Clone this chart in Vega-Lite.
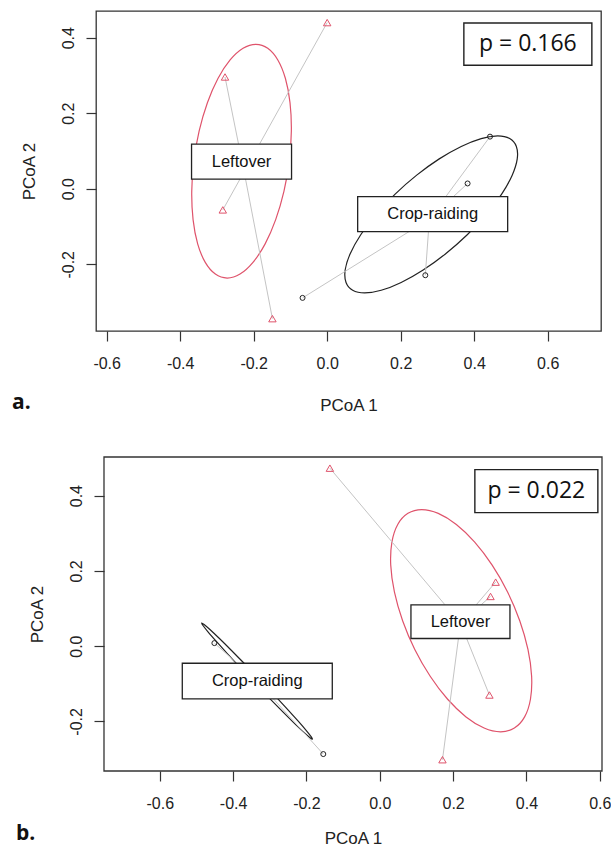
{
  "$schema": "https://vega.github.io/schema/vega-lite/v6.json",
  "padding": {"left": 11, "top": 10, "right": 0, "bottom": 0},
  "spacing": 42,
  "config": {
    "font": "Liberation Sans",
    "view": {"stroke": "#333", "strokeWidth": 1.3},
    "axis": {"domain": false, "grid": false, "ticks": true, "tickSize": 10, "tickColor": "#333", "tickWidth": 1.2,
      "labelFont": "Liberation Sans", "labelFontSize": 16, "labelColor": "#222", "labelFlush": false, "labelOverlap": false,
      "titleFont": "Liberation Sans", "titleFontSize": 17, "titleFontWeight": "normal", "titleColor": "#222"}
  },
  "datasets": {
    "frame": [
      {"panel": "b", "x": -0.752, "y": -0.332, "xend": 0.606, "yend": 0.5027}
    ],
    "pts": [
      {"panel": "a", "group": "Leftover", "x": 0.0, "y": 0.44, "cx": -0.226, "cy": 0.045},
      {"panel": "a", "group": "Leftover", "x": -0.278, "y": 0.296, "cx": -0.226, "cy": 0.045},
      {"panel": "a", "group": "Leftover", "x": -0.284, "y": -0.056, "cx": -0.226, "cy": 0.045},
      {"panel": "a", "group": "Leftover", "x": -0.149, "y": -0.344, "cx": -0.226, "cy": 0.045},
      {"panel": "a", "group": "Crop-raiding", "x": 0.443, "y": 0.138, "cx": 0.278, "cy": -0.08},
      {"panel": "a", "group": "Crop-raiding", "x": 0.382, "y": 0.014, "cx": 0.278, "cy": -0.08},
      {"panel": "a", "group": "Crop-raiding", "x": 0.267, "y": -0.229, "cx": 0.278, "cy": -0.08},
      {"panel": "a", "group": "Crop-raiding", "x": -0.067, "y": -0.289, "cx": 0.278, "cy": -0.08},
      {"panel": "b", "group": "Leftover", "x": -0.136, "y": 0.473, "cx": 0.22, "cy": 0.061},
      {"panel": "b", "group": "Leftover", "x": 0.316, "y": 0.17, "cx": 0.22, "cy": 0.061},
      {"panel": "b", "group": "Leftover", "x": 0.302, "y": 0.132, "cx": 0.22, "cy": 0.061},
      {"panel": "b", "group": "Leftover", "x": 0.299, "y": -0.13, "cx": 0.22, "cy": 0.061},
      {"panel": "b", "group": "Leftover", "x": 0.171, "y": -0.302, "cx": 0.22, "cy": 0.061},
      {"panel": "b", "group": "Crop-raiding", "x": -0.451, "y": 0.008, "cx": -0.334, "cy": -0.093},
      {"panel": "b", "group": "Crop-raiding", "x": -0.154, "y": -0.287, "cx": -0.334, "cy": -0.093}
    ],
    "ell": [
      {"panel": "a", "group": "Leftover", "i": 0, "x": -0.194, "y": 0.3825},
      {"panel": "a", "group": "Leftover", "i": 1, "x": -0.1617, "y": 0.372},
      {"panel": "a", "group": "Leftover", "i": 2, "x": -0.1343, "y": 0.341},
      {"panel": "a", "group": "Leftover", "i": 3, "x": -0.1136, "y": 0.2919},
      {"panel": "a", "group": "Leftover", "i": 4, "x": -0.1011, "y": 0.2278},
      {"panel": "a", "group": "Leftover", "i": 5, "x": -0.0975, "y": 0.1531},
      {"panel": "a", "group": "Leftover", "i": 6, "x": -0.1032, "y": 0.073},
      {"panel": "a", "group": "Leftover", "i": 7, "x": -0.1177, "y": -0.0071},
      {"panel": "a", "group": "Leftover", "i": 8, "x": -0.1401, "y": -0.0818},
      {"panel": "a", "group": "Leftover", "i": 9, "x": -0.1688, "y": -0.1459},
      {"panel": "a", "group": "Leftover", "i": 10, "x": -0.2019, "y": -0.195},
      {"panel": "a", "group": "Leftover", "i": 11, "x": -0.2371, "y": -0.226},
      {"panel": "a", "group": "Leftover", "i": 12, "x": -0.272, "y": -0.2365},
      {"panel": "a", "group": "Leftover", "i": 13, "x": -0.3043, "y": -0.226},
      {"panel": "a", "group": "Leftover", "i": 14, "x": -0.3317, "y": -0.195},
      {"panel": "a", "group": "Leftover", "i": 15, "x": -0.3524, "y": -0.1459},
      {"panel": "a", "group": "Leftover", "i": 16, "x": -0.3649, "y": -0.0818},
      {"panel": "a", "group": "Leftover", "i": 17, "x": -0.3685, "y": -0.0071},
      {"panel": "a", "group": "Leftover", "i": 18, "x": -0.3628, "y": 0.073},
      {"panel": "a", "group": "Leftover", "i": 19, "x": -0.3483, "y": 0.1531},
      {"panel": "a", "group": "Leftover", "i": 20, "x": -0.3259, "y": 0.2278},
      {"panel": "a", "group": "Leftover", "i": 21, "x": -0.2972, "y": 0.2919},
      {"panel": "a", "group": "Leftover", "i": 22, "x": -0.2641, "y": 0.341},
      {"panel": "a", "group": "Leftover", "i": 23, "x": -0.2289, "y": 0.372},
      {"panel": "a", "group": "Crop-raiding", "i": 0, "x": 0.464, "y": 0.14},
      {"panel": "a", "group": "Crop-raiding", "i": 1, "x": 0.4966, "y": 0.1329},
      {"panel": "a", "group": "Crop-raiding", "i": 2, "x": 0.5147, "y": 0.1121},
      {"panel": "a", "group": "Crop-raiding", "i": 3, "x": 0.5171, "y": 0.0791},
      {"panel": "a", "group": "Crop-raiding", "i": 4, "x": 0.5034, "y": 0.036},
      {"panel": "a", "group": "Crop-raiding", "i": 5, "x": 0.4747, "y": -0.0142},
      {"panel": "a", "group": "Crop-raiding", "i": 6, "x": 0.433, "y": -0.068},
      {"panel": "a", "group": "Crop-raiding", "i": 7, "x": 0.3811, "y": -0.1218},
      {"panel": "a", "group": "Crop-raiding", "i": 8, "x": 0.3224, "y": -0.172},
      {"panel": "a", "group": "Crop-raiding", "i": 9, "x": 0.2611, "y": -0.2151},
      {"panel": "a", "group": "Crop-raiding", "i": 10, "x": 0.2013, "y": -0.2481},
      {"panel": "a", "group": "Crop-raiding", "i": 11, "x": 0.147, "y": -0.2689},
      {"panel": "a", "group": "Crop-raiding", "i": 12, "x": 0.102, "y": -0.276},
      {"panel": "a", "group": "Crop-raiding", "i": 13, "x": 0.0694, "y": -0.2689},
      {"panel": "a", "group": "Crop-raiding", "i": 14, "x": 0.0513, "y": -0.2481},
      {"panel": "a", "group": "Crop-raiding", "i": 15, "x": 0.0489, "y": -0.2151},
      {"panel": "a", "group": "Crop-raiding", "i": 16, "x": 0.0626, "y": -0.172},
      {"panel": "a", "group": "Crop-raiding", "i": 17, "x": 0.0913, "y": -0.1218},
      {"panel": "a", "group": "Crop-raiding", "i": 18, "x": 0.133, "y": -0.068},
      {"panel": "a", "group": "Crop-raiding", "i": 19, "x": 0.1849, "y": -0.0142},
      {"panel": "a", "group": "Crop-raiding", "i": 20, "x": 0.2436, "y": 0.036},
      {"panel": "a", "group": "Crop-raiding", "i": 21, "x": 0.3049, "y": 0.0791},
      {"panel": "a", "group": "Crop-raiding", "i": 22, "x": 0.3647, "y": 0.1121},
      {"panel": "a", "group": "Crop-raiding", "i": 23, "x": 0.419, "y": 0.1329},
      {"panel": "b", "group": "Leftover", "i": 0, "x": 0.1145, "y": 0.363},
      {"panel": "b", "group": "Leftover", "i": 1, "x": 0.1595, "y": 0.3529},
      {"panel": "b", "group": "Leftover", "i": 2, "x": 0.2088, "y": 0.3234},
      {"panel": "b", "group": "Leftover", "i": 3, "x": 0.2589, "y": 0.2765},
      {"panel": "b", "group": "Leftover", "i": 4, "x": 0.3065, "y": 0.2153},
      {"panel": "b", "group": "Leftover", "i": 5, "x": 0.3485, "y": 0.1441},
      {"panel": "b", "group": "Leftover", "i": 6, "x": 0.3817, "y": 0.0676},
      {"panel": "b", "group": "Leftover", "i": 7, "x": 0.4041, "y": -0.0089},
      {"panel": "b", "group": "Leftover", "i": 8, "x": 0.4141, "y": -0.0801},
      {"panel": "b", "group": "Leftover", "i": 9, "x": 0.4109, "y": -0.1413},
      {"panel": "b", "group": "Leftover", "i": 10, "x": 0.395, "y": -0.1882},
      {"panel": "b", "group": "Leftover", "i": 11, "x": 0.3671, "y": -0.2177},
      {"panel": "b", "group": "Leftover", "i": 12, "x": 0.3295, "y": -0.2278},
      {"panel": "b", "group": "Leftover", "i": 13, "x": 0.2845, "y": -0.2177},
      {"panel": "b", "group": "Leftover", "i": 14, "x": 0.2352, "y": -0.1882},
      {"panel": "b", "group": "Leftover", "i": 15, "x": 0.1851, "y": -0.1413},
      {"panel": "b", "group": "Leftover", "i": 16, "x": 0.1375, "y": -0.0801},
      {"panel": "b", "group": "Leftover", "i": 17, "x": 0.0955, "y": -0.0089},
      {"panel": "b", "group": "Leftover", "i": 18, "x": 0.0623, "y": 0.0676},
      {"panel": "b", "group": "Leftover", "i": 19, "x": 0.0399, "y": 0.1441},
      {"panel": "b", "group": "Leftover", "i": 20, "x": 0.0299, "y": 0.2153},
      {"panel": "b", "group": "Leftover", "i": 21, "x": 0.0331, "y": 0.2765},
      {"panel": "b", "group": "Leftover", "i": 22, "x": 0.049, "y": 0.3234},
      {"panel": "b", "group": "Leftover", "i": 23, "x": 0.0769, "y": 0.3529},
      {"panel": "b", "group": "Crop-raiding", "i": 0, "x": -0.1836, "y": -0.2473},
      {"panel": "b", "group": "Crop-raiding", "i": 1, "x": -0.1872, "y": -0.2406},
      {"panel": "b", "group": "Crop-raiding", "i": 2, "x": -0.2008, "y": -0.2238},
      {"panel": "b", "group": "Crop-raiding", "i": 3, "x": -0.2236, "y": -0.1982},
      {"panel": "b", "group": "Crop-raiding", "i": 4, "x": -0.254, "y": -0.1653},
      {"panel": "b", "group": "Crop-raiding", "i": 5, "x": -0.2898, "y": -0.1276},
      {"panel": "b", "group": "Crop-raiding", "i": 6, "x": -0.3287, "y": -0.0874},
      {"panel": "b", "group": "Crop-raiding", "i": 7, "x": -0.368, "y": -0.0476},
      {"panel": "b", "group": "Crop-raiding", "i": 8, "x": -0.405, "y": -0.0109},
      {"panel": "b", "group": "Crop-raiding", "i": 9, "x": -0.4372, "y": 0.0202},
      {"panel": "b", "group": "Crop-raiding", "i": 10, "x": -0.4624, "y": 0.0436},
      {"panel": "b", "group": "Crop-raiding", "i": 11, "x": -0.479, "y": 0.0576},
      {"panel": "b", "group": "Crop-raiding", "i": 12, "x": -0.4856, "y": 0.0615},
      {"panel": "b", "group": "Crop-raiding", "i": 13, "x": -0.482, "y": 0.0548},
      {"panel": "b", "group": "Crop-raiding", "i": 14, "x": -0.4684, "y": 0.038},
      {"panel": "b", "group": "Crop-raiding", "i": 15, "x": -0.4456, "y": 0.0124},
      {"panel": "b", "group": "Crop-raiding", "i": 16, "x": -0.4152, "y": -0.0205},
      {"panel": "b", "group": "Crop-raiding", "i": 17, "x": -0.3794, "y": -0.0582},
      {"panel": "b", "group": "Crop-raiding", "i": 18, "x": -0.3405, "y": -0.0984},
      {"panel": "b", "group": "Crop-raiding", "i": 19, "x": -0.3012, "y": -0.1382},
      {"panel": "b", "group": "Crop-raiding", "i": 20, "x": -0.2642, "y": -0.1749},
      {"panel": "b", "group": "Crop-raiding", "i": 21, "x": -0.232, "y": -0.206},
      {"panel": "b", "group": "Crop-raiding", "i": 22, "x": -0.2068, "y": -0.2294},
      {"panel": "b", "group": "Crop-raiding", "i": 23, "x": -0.1902, "y": -0.2434}
    ],
    "lab": [
      {"panel": "a", "group": "Leftover", "x": -0.233, "y": 0.072},
      {"panel": "a", "group": "Crop-raiding", "x": 0.287, "y": -0.067},
      {"panel": "b", "group": "Leftover", "x": 0.22, "y": 0.065},
      {"panel": "b", "group": "Crop-raiding", "x": -0.334, "y": -0.093}
    ],
    "pv": [
      {"panel": "a", "text": "p = 0.166", "x": 0.546, "y": 0.383},
      {"panel": "b", "text": "p = 0.022", "x": 0.427, "y": 0.412}
    ]
  },
  "vconcat": [
    {
      "width": 505,
      "height": 320,
      "title": {"text": "a.", "orient": "bottom", "anchor": "start", "frame": "group", "dx": -84, "offset": -4, "baseline": "alphabetic", "font": "Open Sans", "fontSize": 21, "fontWeight": "bold", "color": "#111"},
      "encoding": {
        "x": {"field": "x", "type": "quantitative", "scale": {"domain": [-0.629, 0.745], "nice": false, "zero": false},
          "axis": {"values": [-0.6, -0.4, -0.2, 0, 0.2, 0.4, 0.6], "labelExpr": "replace(format(datum.value, '.1f'), '\u2212', '-')", "labelPadding": 14, "title": "PCoA 1", "titleY": 79, "titleBaseline": "alphabetic"}},
        "y": {"field": "y", "type": "quantitative", "scale": {"domain": [-0.3767, 0.4707], "nice": false, "zero": false},
          "axis": {"values": [-0.2, 0, 0.2, 0.4], "labelExpr": "replace(format(datum.value, '.1f'), '\u2212', '-')", "labelAngle": 270, "labelAlign": "center", "labelBaseline": "bottom", "labelPadding": 10, "title": "PCoA 2", "titleAngle": 270, "titleAlign": "center", "titleBaseline": "alphabetic", "titleX": -62, "titleY": 160}}
      },
      "layer": [
        {"data": {"name": "ell"}, "transform": [{"filter": "datum.panel == 'a'"}],
          "mark": {"type": "line", "interpolate": "cardinal-closed", "strokeWidth": 1.2},
          "encoding": {"order": {"field": "i", "type": "quantitative"}, "detail": {"field": "group"},
            "color": {"field": "group", "type": "nominal", "scale": {"domain": ["Crop-raiding", "Leftover"], "range": ["#222222", "#DF536B"]}, "legend": null}}},
        {"data": {"name": "pts"}, "transform": [{"filter": "datum.panel == 'a'"}],
          "mark": {"type": "rule", "color": "#c4c4c4", "strokeWidth": 1},
          "encoding": {"x2": {"field": "cx"}, "y2": {"field": "cy"}}},
        {"data": {"name": "pts"}, "transform": [{"filter": "datum.panel == 'a'"}],
          "mark": {"type": "point", "filled": false, "strokeWidth": 1, "opacity": 1},
          "encoding": {
            "shape": {"field": "group", "type": "nominal", "scale": {"domain": ["Crop-raiding", "Leftover"], "range": ["circle", "triangle-up"]}, "legend": null},
            "size": {"field": "group", "type": "ordinal", "scale": {"domain": ["Crop-raiding", "Leftover"], "range": [25, 55]}, "legend": null},
            "color": {"field": "group", "type": "nominal", "scale": {"domain": ["Crop-raiding", "Leftover"], "range": ["#222222", "#DF536B"]}, "legend": null}}},
        {"data": {"name": "lab"}, "transform": [{"filter": "datum.panel == 'a' && datum.group == 'Leftover'"}],
          "mark": {"type": "point", "shape": "M-1,-0.35H1V0.35H-1Z", "size": 10000, "filled": true, "fill": "white", "stroke": "#222", "strokeWidth": 1.3, "opacity": 1}},
        {"data": {"name": "lab"}, "transform": [{"filter": "datum.panel == 'a' && datum.group == 'Crop-raiding'"}],
          "mark": {"type": "point", "shape": "M-1,-0.2333H1V0.2333H-1Z", "size": 22500, "filled": true, "fill": "white", "stroke": "#222", "strokeWidth": 1.3, "opacity": 1}},
        {"data": {"name": "lab"}, "transform": [{"filter": "datum.panel == 'a'"}],
          "mark": {"type": "text", "font": "Liberation Sans", "fontSize": 16.5, "color": "#111", "baseline": "middle", "align": "center"},
          "encoding": {"text": {"field": "group"}}},
        {"data": {"name": "pv"}, "transform": [{"filter": "datum.panel == 'a'"}],
          "mark": {"type": "point", "shape": "M-1,-0.33H1V0.33H-1Z", "size": 16384, "filled": true, "fill": "white", "stroke": "#222", "strokeWidth": 1.4, "opacity": 1}},
        {"data": {"name": "pv"}, "transform": [{"filter": "datum.panel == 'a'"}],
          "mark": {"type": "text", "font": "Open Sans", "fontSize": 23, "color": "#111", "baseline": "middle", "align": "center"},
          "encoding": {"text": {"field": "text"}}}
      ]
    },
    {
      "width": 506,
      "height": 314,
      "view": {"stroke": null},
      "title": {"text": "b.", "orient": "bottom", "anchor": "start", "frame": "group", "dx": -80, "offset": -6, "baseline": "alphabetic", "font": "Open Sans", "fontSize": 21, "fontWeight": "bold", "color": "#111"},
      "encoding": {
        "x": {"field": "x", "type": "quantitative", "scale": {"domain": [-0.7738, 0.606], "nice": false, "zero": false},
          "axis": {"values": [-0.6, -0.4, -0.2, 0, 0.2, 0.4, 0.6], "labelExpr": "replace(format(datum.value, '.1f'), '\u2212', '-')", "labelPadding": 14, "title": "PCoA 1", "titleX": 257, "titleY": 72, "titleBaseline": "alphabetic"}},
        "y": {"field": "y", "type": "quantitative", "scale": {"domain": [-0.332, 0.5027], "nice": false, "zero": false},
          "axis": {"values": [-0.2, 0, 0.2, 0.4], "offset": -8, "labelExpr": "replace(format(datum.value, '.1f'), '\u2212', '-')", "labelAngle": 270, "labelAlign": "center", "labelBaseline": "bottom", "labelPadding": 10, "title": "PCoA 2", "titleAngle": 270, "titleAlign": "center", "titleBaseline": "alphabetic", "titleX": -62, "titleY": 157}}
      },
      "layer": [
        {"data": {"name": "frame"},
          "mark": {"type": "rect", "fill": "transparent", "stroke": "#333", "strokeWidth": 1.3},
          "encoding": {"x2": {"field": "xend"}, "y2": {"field": "yend"}}},
        {"data": {"name": "ell"}, "transform": [{"filter": "datum.panel == 'b'"}],
          "mark": {"type": "line", "interpolate": "cardinal-closed", "strokeWidth": 1.2},
          "encoding": {"order": {"field": "i", "type": "quantitative"}, "detail": {"field": "group"},
            "color": {"field": "group", "type": "nominal", "scale": {"domain": ["Crop-raiding", "Leftover"], "range": ["#222222", "#DF536B"]}, "legend": null}}},
        {"data": {"name": "pts"}, "transform": [{"filter": "datum.panel == 'b'"}],
          "mark": {"type": "rule", "color": "#c4c4c4", "strokeWidth": 1},
          "encoding": {"x2": {"field": "cx"}, "y2": {"field": "cy"}}},
        {"data": {"name": "pts"}, "transform": [{"filter": "datum.panel == 'b'"}],
          "mark": {"type": "point", "filled": false, "strokeWidth": 1, "opacity": 1},
          "encoding": {
            "shape": {"field": "group", "type": "nominal", "scale": {"domain": ["Crop-raiding", "Leftover"], "range": ["circle", "triangle-up"]}, "legend": null},
            "size": {"field": "group", "type": "ordinal", "scale": {"domain": ["Crop-raiding", "Leftover"], "range": [25, 55]}, "legend": null},
            "color": {"field": "group", "type": "nominal", "scale": {"domain": ["Crop-raiding", "Leftover"], "range": ["#222222", "#DF536B"]}, "legend": null}}},
        {"data": {"name": "lab"}, "transform": [{"filter": "datum.panel == 'b' && datum.group == 'Leftover'"}],
          "mark": {"type": "point", "shape": "M-1,-0.34H1V0.34H-1Z", "size": 9801, "filled": true, "fill": "white", "stroke": "#222", "strokeWidth": 1.3, "opacity": 1}},
        {"data": {"name": "lab"}, "transform": [{"filter": "datum.panel == 'b' && datum.group == 'Crop-raiding'"}],
          "mark": {"type": "point", "shape": "M-1,-0.238H1V0.238H-1Z", "size": 22500, "filled": true, "fill": "white", "stroke": "#222", "strokeWidth": 1.3, "opacity": 1}},
        {"data": {"name": "lab"}, "transform": [{"filter": "datum.panel == 'b'"}],
          "mark": {"type": "text", "font": "Liberation Sans", "fontSize": 16.5, "color": "#111", "baseline": "middle", "align": "center"},
          "encoding": {"text": {"field": "group"}}},
        {"data": {"name": "pv"}, "transform": [{"filter": "datum.panel == 'b'"}],
          "mark": {"type": "point", "shape": "M-1,-0.35H1V0.35H-1Z", "size": 15129, "filled": true, "fill": "white", "stroke": "#222", "strokeWidth": 1.4, "opacity": 1}},
        {"data": {"name": "pv"}, "transform": [{"filter": "datum.panel == 'b'"}],
          "mark": {"type": "text", "font": "Open Sans", "fontSize": 23, "color": "#111", "baseline": "middle", "align": "center"},
          "encoding": {"text": {"field": "text"}}}
      ]
    }
  ]
}
